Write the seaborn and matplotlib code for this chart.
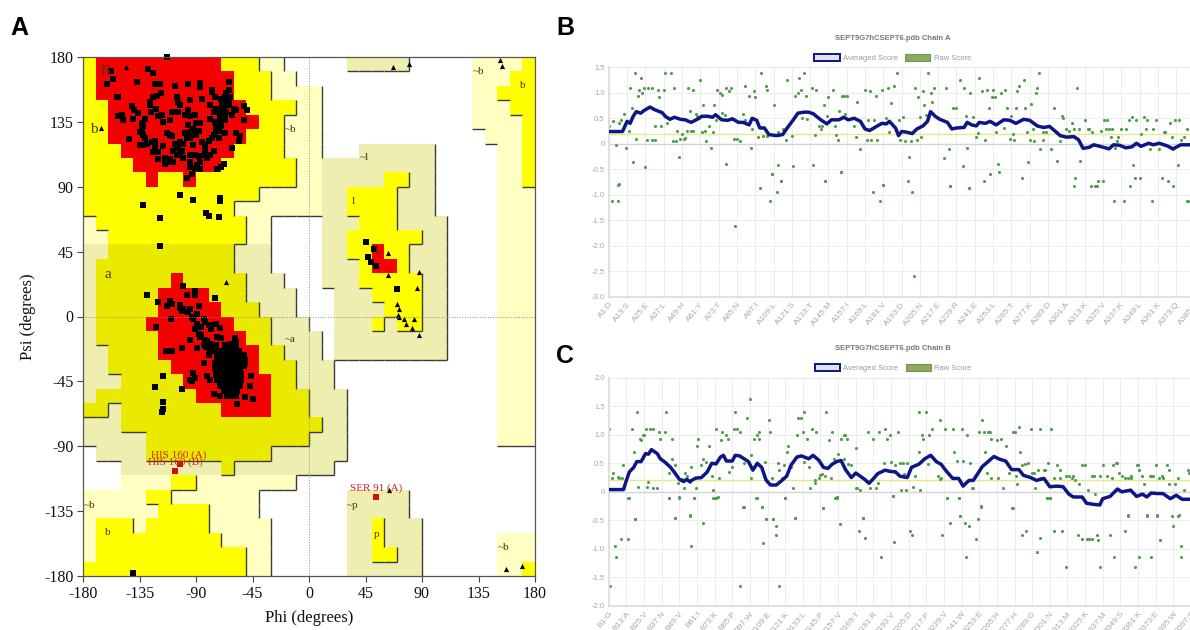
import numpy as np
import seaborn as sns
from matplotlib import pyplot as plt
from matplotlib.colors import ListedColormap
from matplotlib.patches import Patch

# Ramachandran regions, one line per psi band from 180 down to -180, 36 phi cells each
# W empty, P generous, B generous in the helix tint, Y allowed, D allowed in the tint, R core
region_rows = [
    "Y1 R10 Y3 P2 W5 B5 W5 P4 Y1",
    "Y1 R11 Y3 P2 W14 P3 Y2",
    "Y1 R11 Y3 P4 W12 P2 Y3",
    "Y2 R11 Y4 P2 W12 P3 Y2",
    "Y2 R12 Y2 P3 W12 P4 Y1",
    "Y2 R11 Y3 P3 W13 P3 Y1",
    "Y3 R9 Y4 P3 W3 B6 W5 P2 Y1",
    "Y4 R7 Y6 P2 B9 W5 P2 Y1",
    "Y5 R1 Y2 R1 Y8 P2 B5 Y2 B2 W5 P2 Y1",
    "Y14 P5 B2 Y4 B3 W5 P3",
    "Y12 P7 B2 Y4 B3 W5 P3",
    "P1 Y12 P2 W4 B3 Y3 B4 W4 P3",
    "P2 Y11 P2 W4 B2 Y6 B2 W4 P3",
    "B2 D10 B3 W4 B2 Y2 R1 Y2 B3 W4 P3",
    "B1 D11 B3 W4 B3 Y1 R2 Y1 B3 W4 P3",
    "B1 D6 R1 D5 B3 W3 B3 Y5 B2 W4 P3",
    "B1 D5 R4 D3 B4 W3 B3 Y4 B2 W4 P3",
    "B1 D5 R5 D3 B3 W3 B4 Y3 B2 W4 P3",
    "B1 D4 R7 D3 B3 W2 B3 Y1 B1 Y2 B2 W4 P3",
    "B1 D5 R7 D2 B4 W1 B9 W4 P3",
    "B2 D4 R8 D2 B3 W1 B9 W4 P3",
    "B2 D5 R7 D3 B3 W13 P3",
    "B3 D5 R7 D2 B3 W13 P3",
    "B1 D8 R6 D3 B3 W12 P3",
    "D2 B1 D8 R4 D3 B3 W12 P3",
    "B3 D16 B2 W12 P3",
    "B5 D13 B3 W12 P3",
    "W1 B4 D10 B6 W15",
    "W3 B8 D1 B8 W16",
    "W3 P4 Y2 P8 W19",
    "P5 Y2 P7 W7 B5 W10",
    "P6 Y4 P4 W7 B5 W10",
    "P1 Y3 P1 Y5 P5 W6 B2 Y1 B3 W9",
    "P1 Y10 P4 W6 B2 Y1 B3 W6 P3",
    "P1 Y12 P2 W6 B2 Y2 B2 W6 P3",
    "Y13 P2 W6 B6 W6 P2 Y1",
]
region_codes = "WPBYDR"
region_colors = ["#FFFFFF", "#FFFFC2", "#EEEEB0", "#FFFF00", "#EAEA00", "#F40000"]
region_level = [0, 1, 1, 2, 2, 3]

# residues in the favoured/allowed zones, squares
sq_phi = [-113,-158,-156,-161,-128,-124,-137,-123,-119,-107,-96,-87,-87,-64,-153,-152,-105,-104,-103,-95,-85,-118,-121,-124,-127,-127,-141,-139,-136,-122,-109,-104,-96,-91,-77,-79,-75,-66,-63,-64,-68,-70,-74,-76,-60,-58,-52,-49,-52,-152,-149,-148,-140,-126,-131,-133,-133,-132,-143,-120,-116,-111,-99,-95,-96,-90,-87,-88,-79,-75,-71,-67,-70,-74,-76,-80,-83,-58,-55,-56,-61,-113,-109,-99,-95,-97,-103,-105,-108,-123,-125,-123,-120,-116,-135,-120,-115,-111,-108,-105,-103,-100,-95,-91,-88,-91,-87,-93,-97,-79,-76,-72,-67,-68,-70,-73,-131,-124,-66,-67,-61,-77,-64,-66,-69,-95,-81,-83,-85,-90,-92,-100,-101,-107,-111,-117,
          -67,-64,-70,-68,-71,-74,-72,-75,-77,-95,-92,-104,-83,-87,-89,-95,-132,-135,-129,-132,-113,-115,
          -103,-92,-132,-119,-82,-80,-72,-71,-71,-119,45,52,47,49,53,70,-140,
          -129,-120,-100,-97,-91,-91,-75,-111,-109,-113,-103,-101,-95,-88,-89,-93,-110,-122,-89,-91,-88,-84,-80,-74,-71,-95,-101,-114,-109,-89,-84,-79,-81,-73,-70,-59,-62,-58,-84,-92,-95,-91,-93,-81,-79,-101,-116,-123,-116,-116,-117,-46,-47,-45,-57,-76,-71,-54,-52,-51,
          -86,-87,-82,-78,-76,-73,-80,-63,-60,-67,
          -103,-100,-96,-92,-88,-86,-83,-79,-76,-80,-78,-83,-58,-52,-51,-74,-66,-67,
          -72,-68,-64,-60,-56,-73,-69,-65,-61,-57,-53,-75,-71,-67,-63,-59,-55,-51,-75,-71,-67,-63,-59,-55,-74,-70,-66,-62,-58,-54,-73,-69,-65,-61,-57,-54,-71,-67,-63,-59,-55,-68,-64,-60,-57,-65,-61,-58]
sq_psi = [180,170,165,161,172,169,163,161,161,160,161,162,159,163,152,152,152,149,147,150,151,155,153,152,149,147,146,143,141,144,142,142,143,140,156,147,152,155,152,149,146,143,144,142,144,143,146,143,136,139,140,136,137,142,137,134,130,126,123,139,135,136,140,139,133,134,134,129,137,135,136,140,132,129,126,122,119,127,125,122,117,127,125,127,128,124,121,117,115,122,121,118,114,118,119,109,106,109,107,112,113,110,107,112,111,103,102,99,96,112,115,124,127,106,104,102,124,114,142,136,140,157,157,150,147,112,110,115,121,126,130,120,115,120,126,140,
          152,147,151,141,140,133,129,126,124,124,119,118,112,107,105,104,132,128,120,119,107,110,
          84,81,77,68,72,70,69,82,80,49,52,47,41,38,35,19,-178,
          15,10,21,15,18,15,13,11,9,7,8,4,5,7,2,0,-2,-7,-5,-9,-12,-2,-6,-5,-8,-16,-22,-24,-24,-22,-20,-23,-17,-14,-15,-15,-19,-22,-32,-39,-44,-43,-45,-41,-44,-50,-41,-49,-59,-64,-66,-41,-48,-57,-61,-54,-55,-29,-34,-56,
          -7,-14,-21,-9,-20,-24,-27,-20,-19,-20,
          6,5,3,-2,-7,-13,-16,-19,-24,-22,-6,-4,-18,-27,-30,-20,-21,-24,
          -24,-24,-24,-24,-24,-28,-28,-28,-28,-28,-28,-32,-32,-32,-32,-32,-32,-32,-36,-36,-36,-36,-36,-36,-40,-40,-40,-40,-40,-40,-44,-44,-44,-44,-44,-44,-48,-48,-48,-48,-48,-52,-52,-52,-52,-55,-55,-55]
# glycines, triangles
tri_phi = [-146,-166,-66,67,80,152,154,157,170,64,63,63,88,86,70,72,71,72,77,76,84,82,88]
tri_psi = [173,131,24,173,175,178,174,-175,-173,-120,44,29,31,20,9,5,1,0,-5,-2,-2,-8,-13]
# outliers
out_phi = [-103,-107,53]
out_psi = [-102,-107,-125]
out_names = ["HIS 160 (A)", "HIS 160 (B)", "SER 91 (A)"]
out_label_phi = [-125.5, -128.5, 32.5]
out_label_psi = [-96.5, -101, -119]
zone_names = ["B", "b", "a", "L", "l", "p", "b", "b", "~b", "~b", "~b", "~b", "~a", "~l", "~p"]
zone_phi = [-162, -171, -160, 55, 35, 54, -160, 170, -15, 135, -175, 155, -15, 44, 35]
zone_psi = [170, 130, 29, 45, 80, -151, -150, 160, 130, 170, -131, -160, -16, 110, -131]
angle_ticks = [-180, -135, -90, -45, 0, 45, 90, 135, 180]

chain_a_res = [1,10,13,15,17,19,22,24,28,31,36,38,41,44,48,51,55,59,62,66,69,71,75,79,82,86,89,93,95,98,100,103,106,111,115,118,122,125,129,132,135,140,144,147,152,155,158,162,166,169,172,176,180,183,185,189,191,193,196,200,203,207,210,212,215,218,223,226,229,234,236,239,242,244,248,251,255,260,264,268,273,277,282,286,290,294,297,301,306,309,312,316,319,323,329,332,336,340,344,347,350,355,358,362,367,371,376,382,397]
chain_a_avg = [.24,.24,.44,.40,.54,.63,.6,.65,.72,.67,.61,.54,.48,.52,.48,.47,.42,.48,.54,.54,.52,.57,.47,.46,.49,.42,.42,.37,.5,.46,.31,.31,.18,.16,.18,.31,.47,.6,.62,.62,.59,.47,.39,.47,.47,.52,.47,.5,.44,.29,.26,.33,.4,.39,.44,.31,.16,.24,.23,.2,.29,.35,.44,.63,.54,.48,.42,.29,.31,.32,.42,.37,.35,.42,.4,.44,.37,.47,.46,.4,.48,.46,.35,.32,.34,.24,.16,.13,.14,.08,-.09,-.07,-.02,-.05,-.1,-.02,-.03,-.08,-.06,.01,-.05,.01,-.02,.01,-.04,-.1,-.02,-.02,-.02]
chain_a_raw_res = [1,4,6,8,8,9,11,12,14,15,16,17,18,19,20,21,22,23,24,25,26,27,29,29,31,31,33,34,35,37,38,39,42,43,44,45,46,47,48,49,50,51,52,53,54,56,55,56,58,59,60,61,62,63,64,65,67,68,69,70,71,72,74,75,75,77,78,78,80,81,83,85,87,89,90,90,93,94,95,96,97,99,101,102,104,105,105,108,109,112,114,112,115,117,118,121,122,123,125,126,127,128,129,130,131,134,135,136,137,139,140,141,142,143,144,145,148,149,150,151,152,153,154,155,157,156,162,163,164,166,169,170,171,172,173,175,177,176,180,181,183,184,
                   186,188,185,190,191,192,194,195,198,199,202,203,204,205,206,207,208,209,210,212,213,214,221,222,224,225,227,229,231,233,234,235,236,237,238,240,242,243,244,246,248,249,250,252,254,253,255,256,258,260,261,262,264,265,266,267,268,269,270,273,274,275,276,277,278,279,280,281,282,283,284,286,286,288,291,293,294,295,297,298,299,301,303,305,306,308,309,310,313,315,316,318,324,326,328,327,329,331,330,333,334,335,337,340,342,344,345,347,350,352,353,354,356,358,360,362,365,366,369,370,371,372,374,375,376,378,380,
                   3,7,7,84,100,107,108,111,114,143,153,174,179,181,197,200,201,225,237,247,251,257,272,306,307,317,320,321,322,325,332,339,343,346,349,357,364,368,371,380,381]
chain_a_raw = [.34,.44,-.03,-.79,.40,.47,.59,-.08,.26,1.09,.71,-.35,1.39,.09,.93,1.06,1.29,1.0,1.09,-.46,.08,1.09,1.09,.08,.08,.34,1.06,.91,.34,1.06,1.39,.4,1.39,.05,1.09,.05,.25,-.25,.09,.2,.09,.11,.25,1.09,.65,1.06,.25,.25,.59,.54,.5,1.25,.23,.77,.25,.05,.34,-.09,.24,.77,.47,1.06,1.0,.96,.6,.57,-.4,1.09,1.03,1.09,.1,.09,.05,.59,1.14,.47,.93,-.08,.29,1.03,.91,.14,1.39,.16,1.14,1.06,.16,-.6,.77,-.41,-.74,.24,.29,.08,1.25,.16,-.43,.93,1.0,1.29,1.06,.5,1.39,.93,.48,1.09,-.41,.17,1.06,.34,.29,.34,.77,-.74,.55,.91,1.06,.34,.17,.08,.65,-.56,.93,.93,.93,.59,.34,.14,.81,-.1,1.06,.08,.46,1.03,.08,.47,.08,.93,1.06,-.8,.5,1.09,
               .8,1.14,.24,1.39,.47,.08,.52,.05,-.25,.05,1.09,.08,.91,.52,.14,1.03,.77,.57,1.39,1.0,.81,1.09,-.28,1.09,-.1,-.82,.71,.71,1.25,-.43,1.09,.55,-.08,-.87,1.0,.52,.14,.21,1.29,1.03,.08,1.06,.71,.91,.915,1.06,.24,-.4,1.0,.31,1.06,.71,.1,.55,.2,.08,.71,1.03,1.14,1.25,.71,.24,-.35,.08,.78,.29,.05,1.0,1.09,1.39,-.1,.24,.08,.24,-.1,.71,.24,-.33,.05,.55,.5,.29,.25,.4,.29,1.09,.29,-.33,.47,.29,.29,.24,.25,.47,.47,.29,.29,.29,.14,-.08,.05,.14,.29,.29,.47,.52,-.41,.47,.2,.52,.29,.47,-.1,.29,.47,-.1,.24,.24,.4,.14,-.1,.47,-.41,.47,.08,.14,.29,
               -1.13,-1.13,-.8,-1.62,-.86,-1.12,-.59,-.94,-.73,-.73,-.56,-.94,-1.12,-.8,-.73,-.94,-2.6,-.82,-.86,-.73,-.59,-.56,-.67,-.83,-.67,-.82,-.82,-.83,-.73,-.73,-1.13,-1.13,-.83,-.67,-.67,-1.13,-.67,-.73,-.83,-1.13,-1.13]

chain_b_res = [1,11,13,15,18,20,23,26,28,30,34,36,39,43,46,49,52,54,56,60,64,68,71,74,77,79,81,85,87,90,93,96,99,102,105,108,111,115,119,122,125,129,132,137,140,144,147,150,153,156,159,162,166,169,172,175,178,181,184,189,192,196,199,204,207,212,216,220,224,227,231,235,239,242,246,249,252,255,259,263,267,271,275,280,283,288,292,297,301,306,310,314,317,323,326,331,335,337,342,347,350,356,360,364,367,370,374,378,383,387,391,396]
chain_b_avg = [.04,.04,.205,.35,.43,.53,.53,.67,.66,.74,.67,.58,.525,.43,.33,.22,.18,.22,.18,.24,.25,.35,.5,.49,.61,.64,.54,.54,.64,.63,.58,.53,.38,.5,.43,.205,.12,.12,.205,.275,.47,.61,.63,.58,.64,.55,.43,.41,.485,.53,.55,.39,.25,.33,.275,.22,.15,.23,.32,.38,.36,.35,.275,.25,.43,.485,.58,.64,.525,.485,.35,.235,.235,.1,.2,.2,.32,.44,.53,.62,.57,.54,.39,.39,.29,.25,.2,.235,.09,.1,.09,-.04,-.09,-.09,-.2,-.22,-.23,-.12,-.08,.05,0,.03,-.08,-.04,-.09,-.02,-.03,-.03,-.12,-.06,-.13,-.13]
chain_b_raw_res = [1,3,4,7,8,10,11,14,17,18,19,20,21,22,23,24,25,26,27,28,29,31,31,34,35,36,39,40,42,42,44,44,46,46,48,49,51,52,53,54,56,56,57,59,60,61,62,64,65,67,69,71,72,72,74,74,76,77,78,81,82,83,85,86,87,88,90,93,93,95,97,98,98,100,102,103,103,102,105,107,108,110,111,112,113,116,117,119,120,121,122,123,125,126,128,129,130,132,133,134,134,136,137,138,139,141,141,142,144,145,146,147,148,149,151,152,153,154,156,156,157,159,161,162,163,161,164,166,169,170,169,172,174,177,179,181,183,184,185,188,189,190,
                   192,193,194,196,198,199,200,201,203,204,202,208,209,212,212,213,214,215,217,218,219,221,225,226,226,227,230,231,235,236,238,239,240,241,242,245,247,248,249,253,254,255,256,257,258,259,260,261,261,265,266,268,269,271,273,276,276,277,278,279,280,281,282,284,286,288,289,290,291,293,294,294,297,298,299,300,301,302,304,306,308,308,312,314,316,317,318,321,323,325,327,330,331,332,335,337,340,343,344,346,347,348,350,352,354,354,356,356,360,361,362,364,365,367,369,370,373,371,374,375,377,378,381,382,382,386,388,388,392,395,396,
                   2,5,6,9,14,15,19,42,46,49,56,57,59,65,73,75,90,92,101,105,106,108,113,115,115,117,121,128,147,155,156,158,171,174,175,186,194,195,206,207,228,231,233,239,240,243,244,246,251,252,254,275,282,285,292,294,299,301,304,309,312,320,323,326,328,330,333,334,335,342,345,352,354,359,362,367,370,374,376,384,385,389,390,390]
chain_b_raw = [1.1,.235,.33,.26,.235,.235,.47,-.105,1.1,.7,-.47,1.4,.09,.93,.91,.99,.99,1.1,.09,.165,1.1,1.1,.075,.075,1.05,.92,1.05,1.4,.33,-.1,.92,.58,.47,-.455,.16,-.1,.22,.075,.33,.275,.165,-.42,.44,-.1,.075,.81,.92,.47,.58,.53,.81,.275,.04,-.105,-.1,1.1,.235,.91,1.05,.99,.92,.34,.44,1.1,1.4,1.1,1.04,-.26,.51,1.29,1.62,.235,.64,.92,.99,1.04,.92,-.105,-.26,.525,-.47,1.26,1.05,.235,-.47,.51,.38,.235,.47,-.1,.7,.81,.44,.075,-.45,.99,1.29,1.29,1.05,1.4,.525,.92,.43,.075,1.1,.2,.16,1.05,.235,.29,.32,-.29,.275,1.4,.91,.235,1.05,.58,-.1,-.09,.66,.92,.99,.99,.92,.58,.485,.47,.075,.075,.77,.04,-.45,1.04,.075,.92,.075,.15,1.05,.51,1.1,.92,
               .99,.525,-.08,.47,1.04,.51,.04,.51,.04,.51,.32,.09,.275,1.4,.7,.04,.99,.92,1.4,.485,.99,1.1,.275,1.26,.22,.25,1.1,-.105,1.1,.7,.54,-.105,-.425,1.1,.54,.99,.51,.075,.075,1.04,-.26,1.26,1.05,.7,.33,1.05,1.05,.92,.235,.91,.235,.92,.075,.81,.33,-.29,1.04,1.04,.275,.135,1.14,.7,.47,.485,.51,1.1,.33,.33,.075,.39,1.1,.235,.39,.39,-.105,.51,-.105,1.1,.235,.47,.235,.39,.275,.275,.25,.275,.2,.135,.47,.47,.04,.275,.275,-.03,.275,.47,.275,.235,.47,.5,.51,.33,.275,.235,.235,-.425,.235,.275,.47,.47,.39,.275,.135,-.425,.275,.275,.47,.275,-.425,.235,.275,.235,.47,.135,.39,.135,.235,-.425,.04,.39,.33,
               -1.65,-.945,-1.15,-.83,-.83,-.1,-.47,-.1,-.45,-.09,-.41,-.945,-.1,-.54,-.1,-.09,-1.65,-.26,-.1,-.26,-.89,-.47,-.47,-.6,-.75,-1.65,-.1,-.45,-.29,-.1,-.09,-.57,-.69,-.45,-.8,-1.15,-.07,-.88,-.69,-.75,-.75,-.1,-.54,-.1,-.43,-.54,-1.14,-.6,-.82,-.47,-.25,-.29,-.75,-.69,-1.05,-.8,-.1,-.1,-.69,-.69,-1.31,-.75,-.83,-.83,-.83,-.83,-.75,-.85,-1.31,-.75,-1.15,-.69,-.41,-1.31,-1.15,-.41,-1.15,-.41,-.85,-.43,-.6,-.41,-.945,-1.15]

residue_step = 12
chain_a_letters = "D S E L H Y T N I L S T M I L V D N E R E L T K D A K V K L K Q S".split()
chain_b_letters = "G A V N V I K P W E K L P V T R V D P V W E H H G N M K M S K E W S".split()
chain_a_ticks = [1 + residue_step * i for i in range(len(chain_a_letters))]
chain_b_ticks = [1 + residue_step * i for i in range(len(chain_b_letters))]


def expand_row(row):
    # "Y1 R10" -> [index of Y, index of R x 10]
    cells = []
    for part in row.split():
        cells += [region_codes.index(part[0])] * int(part[1:])
    return cells


def draw_edges(ax, grid):
    # black edge on the lower and right side of each zone, red gets none
    level = np.array(region_level)[grid]
    nrow, ncol = grid.shape
    for r in range(nrow):
        for c in range(ncol):
            if level[r, c] == 3:
                continue
            if c + 1 < ncol and level[r, c] > level[r, c + 1]:
                ax.plot([c + 1, c + 1], [r, r + 1], color="#3a3a3a", lw=1.0, solid_capstyle="butt")
            if r + 1 < nrow and level[r, c] > level[r + 1, c]:
                ax.plot([c, c + 1], [r + 1, r + 1], color="#3a3a3a", lw=1.0, solid_capstyle="butt")


def draw_rama(fig, rect):
    ax_grid = fig.add_axes(rect)
    grid = np.array([expand_row(r) for r in region_rows])
    sns.heatmap(grid, ax=ax_grid, cmap=ListedColormap(region_colors), vmin=-0.5, vmax=5.5,
                cbar=False, xticklabels=False, yticklabels=False)
    draw_edges(ax_grid, grid)

    ax = fig.add_axes(rect, facecolor="none")
    ax.set_xlim(-180, 180)
    ax.set_ylim(-180, 180)
    ax.axhline(0, color="#8a8a8a", ls=":", lw=0.7)
    ax.axvline(0, color="#8a8a8a", ls=":", lw=0.7)
    sns.scatterplot(x=sq_phi, y=sq_psi, marker="s", color="black", s=19, linewidth=0, ax=ax, clip_on=False)
    sns.scatterplot(x=tri_phi, y=tri_psi, marker="^", color="black", s=14, linewidth=0, ax=ax, clip_on=False)
    sns.scatterplot(x=out_phi, y=out_psi, marker="s", color="#cc1010", s=15, linewidth=0, ax=ax)
    for name, x, y in zip(out_names, out_label_phi, out_label_psi):
        ax.text(x, y, name, color="#d42020", fontsize=8, family="Liberation Serif", va="center")
    for name, x, y in zip(zone_names, zone_phi, zone_psi):
        big = name in ("B", "a", "b") and x < 0 and y > 0
        ax.text(x, y, name, color="#553300", fontsize=11 if big else 8, family="Liberation Serif",
                ha="center", va="center")
    ax.set_xticks(angle_ticks)
    ax.set_yticks(angle_ticks)
    ax.tick_params(labelsize=11.5, length=4, width=0.8, color="#444444", pad=3, labelcolor="#111111",
                   bottom=True, left=True)
    for lab in ax.get_xticklabels() + ax.get_yticklabels():
        lab.set_family("Liberation Serif")
    ax.set_xlabel("Phi (degrees)", fontsize=12, family="Liberation Serif", labelpad=6, color="#111111")
    ax.set_ylabel("Psi (degrees)", fontsize=12, family="Liberation Serif", labelpad=6, color="#111111")
    for s in ax.spines.values():
        s.set_visible(True)
        s.set_color("#555555")
        s.set_linewidth(0.9)


def draw_score(fig, rect, title, res, avg, raw_res, raw, ticks, tick_labels, ylim, yticks, legend_x):
    ax = fig.add_axes(rect)
    ax.set_xlim(1, 397)
    ax.set_ylim(*ylim)
    ax.grid(True, color="#ececec", lw=0.7)
    ax.set_axisbelow(True)
    ax.axhline(0, color="#d4d4d4", lw=1.0, zorder=1)
    ax.axhline(0.2, color="#e6e68c", lw=1.0, zorder=1)
    sns.scatterplot(x=raw_res, y=raw, color="#4f9e4a", s=5, linewidth=0, ax=ax, zorder=2)
    sns.lineplot(x=res, y=avg, color="#0c1684", lw=2.5, ax=ax, estimator=None, sort=False, zorder=3)
    ax.set_xticks(ticks)
    ax.set_xticklabels(tick_labels, rotation=50, ha="right", rotation_mode="anchor")
    ax.set_yticks(yticks)
    ax.set_yticklabels([("%.1f" % v if v != 0 else "0") for v in yticks])
    ax.tick_params(labelsize=5.5, labelcolor="#a8a8a8", length=0, pad=3, bottom=False, left=False)
    ax.tick_params(axis="x", labelsize=6)
    for name in ("top", "right"):
        ax.spines[name].set_visible(False)
    for name in ("left", "bottom"):
        ax.spines[name].set_color("#dddddd")
    ax.set_title(title, x=legend_x, pad=20, fontsize=5.5, fontweight="bold", color="#777777")
    handles = [Patch(facecolor="#e0e3f4", edgecolor="#0c1684", lw=1.4, label="Averaged Score"),
               Patch(facecolor="#90a860", edgecolor="#5fa050", lw=0.8, label="Raw Score")]
    ax.legend(handles=handles, ncol=2, loc="lower center", bbox_to_anchor=(legend_x, 1.0), frameon=False,
              fontsize=5.5, labelcolor="#9a9a9a", handlelength=3.3, handleheight=1.1,
              columnspacing=1.0, handletextpad=0.4, borderaxespad=0.3)


sns.set_theme(style="white")
plt.rcParams["font.family"] = ["Liberation Sans", "DejaVu Sans"]
plt.rcParams["axes.unicode_minus"] = False
W, H = 1190.0, 630.0
fig = plt.figure(figsize=(W / 100, H / 100), dpi=100)

draw_rama(fig, [83 / W, (H - 576) / H, 452 / W, 519 / H])
draw_score(fig, [608.8 / W, (H - 296.7) / H, 396 * 1.525 / W, 229.4 / H],
           "SEPT9G7hCSEPT6.pdb Chain A", chain_a_res, chain_a_avg, chain_a_raw_res, chain_a_raw,
           chain_a_ticks, ["A%d:%s" % p for p in zip(chain_a_ticks, chain_a_letters)],
           (-3, 1.5), [1.5, 1, .5, 0, -.5, -1, -1.5, -2, -2.5, -3], 0.47)
draw_score(fig, [608.8 / W, (H - 606) / H, 396 * 1.47 / W, 228.3 / H],
           "SEPT9G7hCSEPT6.pdb Chain B", chain_b_res, chain_b_avg, chain_b_raw_res, chain_b_raw,
           chain_b_ticks, ["B%d:%s" % p for p in zip(chain_b_ticks, chain_b_letters)],
           (-2, 2), [2, 1.5, 1, .5, 0, -.5, -1, -1.5, -2], 0.488)

for letter, x, y in [("A", 19, 28), ("B", 565, 28), ("C", 565, 356)]:
    fig.text(x / W, 1 - y / H, letter, fontsize=18, fontweight="bold", color="black", ha="center", va="center")

fig.savefig("out.png", dpi=100)
